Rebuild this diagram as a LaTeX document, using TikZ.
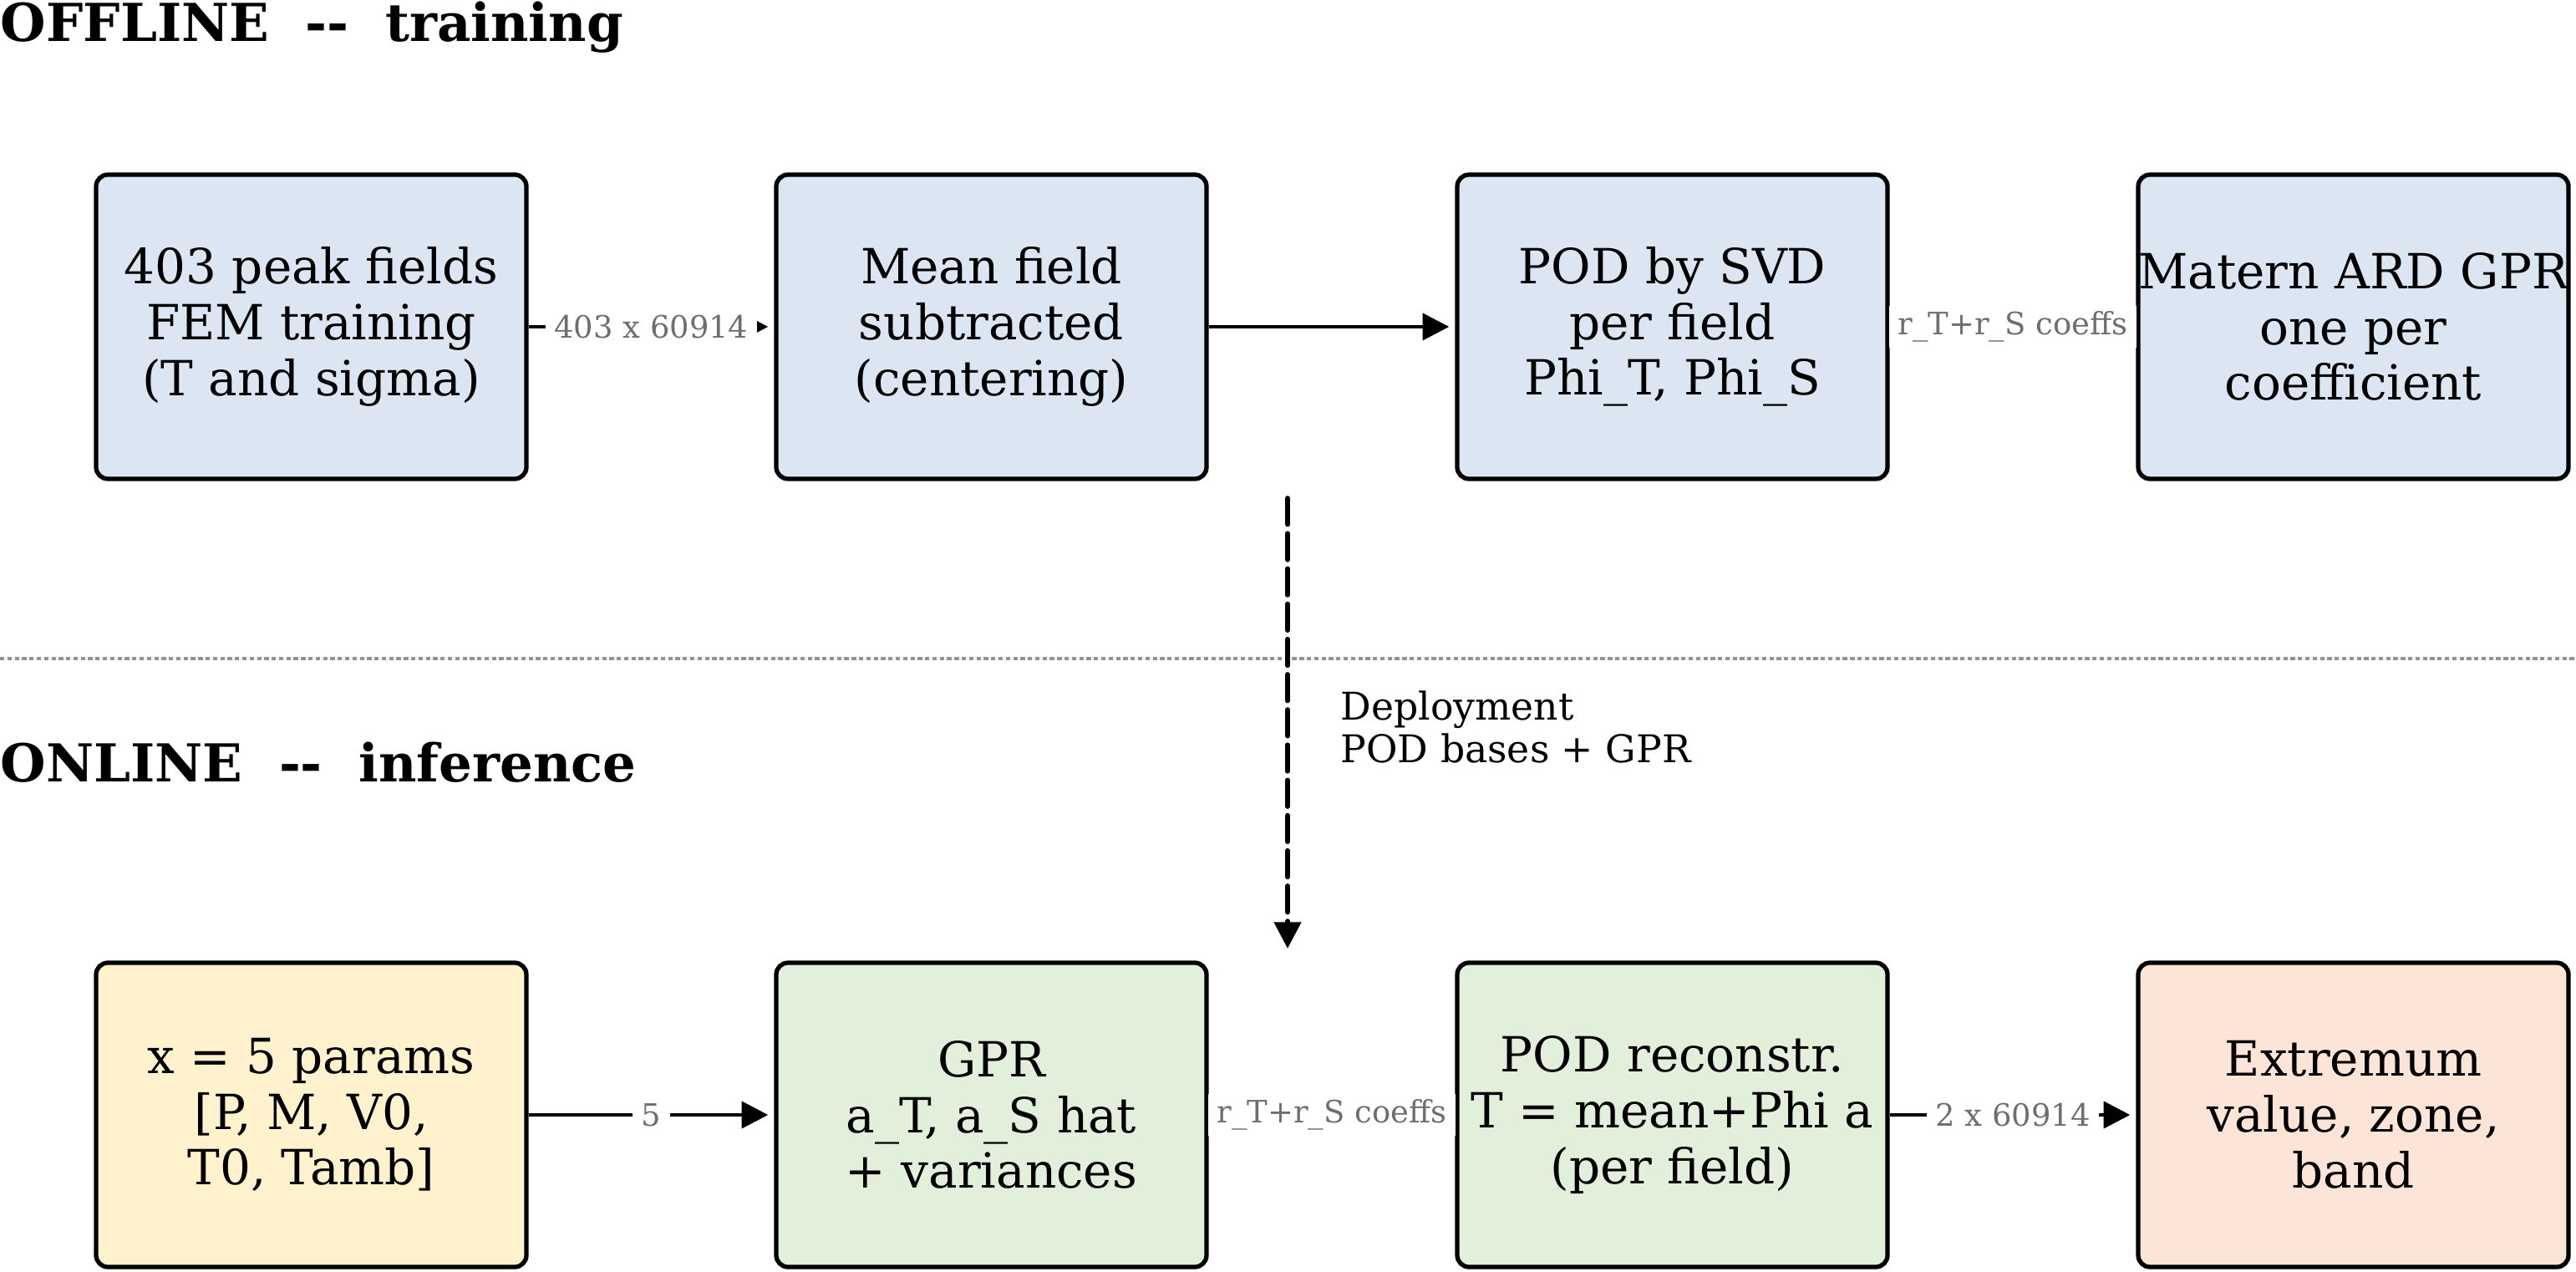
\documentclass[tikz,border=0pt]{standalone}
\usepackage{fontspec}
\setmainfont{DejaVu Serif}
\usetikzlibrary{arrows.meta,positioning}

\definecolor{trainblue}{RGB}{220,230,242}
\definecolor{inputyellow}{RGB}{255,242,204}
\definecolor{modelgreen}{RGB}{226,239,218}
\definecolor{outpeach}{RGB}{252,228,214}
\definecolor{labelgray}{RGB}{110,110,110}

\begin{document}
\begin{tikzpicture}[
    stage/.style={
        rectangle,
        draw=black,
        line width=1.5pt,
        inner xsep=0pt,
        minimum width=5.15cm,
        minimum height=3.64cm,
        align=center,
        font=\fontsize{16.5}{19}\selectfont,
        rounded corners=4pt
    },
    heading/.style={
        anchor=base west,
        inner sep=0pt,
        font=\fontsize{17.8}{21}\selectfont\bfseries
    },
    elabel/.style={
        midway,
        fill=white,
        inner xsep=3pt,
        inner ysep=2pt,
        text=labelgray,
        font=\fontsize{10.5}{12}\selectfont
    },
    arrow/.style={
        -{Triangle[length=9pt,width=9pt]},
        line width=1.4pt,
        shorten >=2pt
    },
    deploy/.style={
        arrow,
        line width=1.6pt,
        dash pattern=on 9pt off 3pt,
        line cap=round
    },
    separator/.style={
        gray!85,
        line width=1pt,
        dash pattern=on 1.5pt off 1pt
    }
]
\useasboundingbox (0,0) rectangle (30.83,-15.22);

% Section headings
\node[heading] (offhead) at (0,-0.50) {OFFLINE\ \ \mbox{-}\mbox{-}\ \ training};
\node[heading] (onhead) at (0,-9.35) {ONLINE\ \ \mbox{-}\mbox{-}\ \ inference};

% Separator between offline and online
\coordinate (sepl) at (0,-7.88);
\coordinate (sepr) at (30.83,-7.88);
\draw[separator] (sepl) -- (sepr);

% Offline stages
\node[stage, fill=trainblue] (fem) at (3.725,-3.91) {403 peak fields\\FEM training\\(T and sigma)};
\node[stage, fill=trainblue] (mean) at (11.865,-3.91) {Mean field\\subtracted\\(centering)};
\node[stage, fill=trainblue] (svd) at (20.015,-3.91) {POD by SVD\\per field\\Phi\_T, Phi\_S};
\node[stage, fill=trainblue] (gprfit) at (28.165,-3.91) {Matern ARD GPR\\one per\\coefficient};

% Online stages
\node[stage, fill=inputyellow] (params) at (3.725,-13.34) {x = 5 params\\{[P, M, V0,}\\T0, Tamb]};
\node[stage, fill=modelgreen] (gpr) at (11.865,-13.34) {GPR\\a\_T, a\_S hat\\+ variances};
\node[stage, fill=modelgreen] (recon) at (20.015,-13.34) {POD reconstr.\\T = mean+Phi a\\(per field)};
\node[stage, fill=outpeach] (extr) at (28.165,-13.34) {Extremum\\value, zone,\\band};

% Offline arrows
\draw[arrow] (fem) -- node[elabel] {403 x 60914} (mean);
\draw[arrow] (mean) -- (svd);
\draw[arrow] (svd) -- node[elabel] {r\_T+r\_S coeffs} (gprfit);

% Online arrows
\draw[arrow] (params) -- node[elabel] {5} (gpr);
\draw[arrow] (gpr) -- node[elabel] {r\_T+r\_S coeffs} (recon);
\draw[arrow] (recon) -- node[elabel] {2 x 60914} (extr);

% Deployment of trained models
\coordinate (deptop) at (15.41,-5.96);
\coordinate (depbot) at (15.41,-11.42);
\draw[deploy] (deptop) -- (depbot);
\node[anchor=base west, inner sep=0pt, align=left, font=\fontsize{13}{14.5}\selectfont] (deplabel) at (16.04,-9.12) {Deployment\\POD bases + GPR};

\end{tikzpicture}
\end{document}
